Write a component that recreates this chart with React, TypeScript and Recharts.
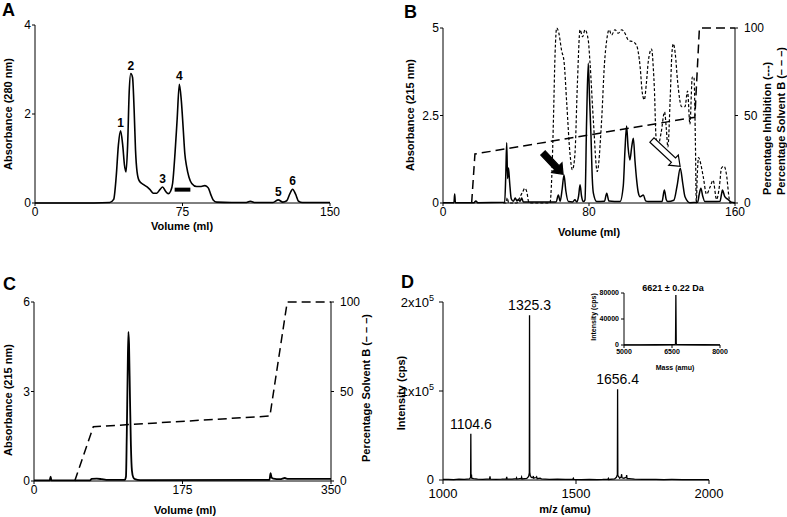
import React from "react";
import {
  ComposedChart,
  Line,
  XAxis,
  YAxis,
  ReferenceLine,
  ReferenceDot,
} from "recharts";

const FONT = "'Liberation Sans', Arial, Helvetica, sans-serif";

type Pt = [number, number];

// ---- A: gel filtration, absorbance 280 nm vs volume (ml)
const aTrace: Pt[] = [
  [0, 0], [30, 0], [38, 0.01], [40, 0.08], [41.3, 0.6], [42.4, 1.3], [43.5, 1.62],
  [44.6, 1.3], [45.5, 0.85], [46.3, 0.7], [47.1, 1.3], [47.9, 2.5], [48.7, 2.91],
  [49.6, 2.82], [50.4, 2.1], [51.1, 1.2], [51.9, 0.7], [53, 0.5], [55, 0.42],
  [57, 0.36], [58.5, 0.3], [60.2, 0.22], [61.9, 0.22], [63.5, 0.3], [64.9, 0.36],
  [66.3, 0.27], [67.8, 0.21], [69, 0.27], [70, 0.45], [71.2, 1.12], [72.3, 1.9],
  [73.4, 2.67], [74.4, 2.3], [75.4, 1.64], [76.2, 1.1], [77.1, 0.82], [78.3, 0.58],
  [79.7, 0.44], [82.2, 0.37], [84.5, 0.37], [86.4, 0.39], [88.1, 0.34], [89.3, 0.2],
  [90.6, 0.07], [92.4, 0.02], [100, 0.01], [107, 0.01], [109.5, 0.04], [112, 0.01],
  [121, 0.01], [123.7, 0.07], [126, 0.02], [128, 0.05], [129.5, 0.2], [131, 0.31],
  [132.5, 0.2], [134, 0.04], [136, 0.01], [150, 0.01],
];
const aPeakLabels = ["1", "2", "3", "4", "5", "6"];
const aPeaks: Pt[] = [[43.5, 1.62], [48.7, 2.91], [64.9, 0.36], [73.4, 2.67], [123.7, 0.07], [131, 0.31]];
const aPooled: Pt[] = [[71, 0.3], [79, 0.3]];

// ---- B: RP-HPLC, absorbance 215 nm, % inhibition, % solvent B
const bAbs: Pt[] = [
  [0, 0.01], [6, 0.01], [6.4, 0.26], [6.8, 0.01], [17, 0.01], [18, 0.06], [19, 0.01],
  [33.8, 0.02], [34.4, 0.8], [34.9, 1.72], [35.4, 0.7], [35.9, 1.0], [36.5, 0.6],
  [37.4, 0.12], [38.5, 0.05], [39.6, 0.14], [40.5, 0.06], [41.3, 0.1], [42.2, 0.05],
  [43.1, 0.14], [44, 0.03], [62, 0.03], [63.2, 0.23], [64.2, 0.05], [65.3, 0.4],
  [66.3, 0.8], [67.3, 0.35], [68.7, 0.04], [71, 0.03], [72.3, 0.09], [73.3, 0.03],
  [74.3, 0.2], [75.1, 0.52], [75.9, 0.2], [76.9, 0.04], [77.8, 0.09], [78.7, 2.37],
  [79.6, 3.99], [80.3, 3.0], [81.1, 1.9], [81.8, 0.7], [82.4, 0.28], [84.2, 0.04],
  [88.5, 0.05], [89.7, 0.28], [90.9, 0.06], [97, 0.04], [98.8, 0.5], [99.7, 1.5],
  [100.6, 2.2], [101.4, 1.6], [102.4, 1.23], [103.4, 1.6], [104.3, 1.85], [105.2, 1.2],
  [106.1, 0.66], [107, 0.3], [108, 0.18], [109.8, 0.23], [111, 0.06], [112.5, 0.04],
  [120, 0.04], [121.3, 0.37], [122.3, 0.1], [123.2, 0.04], [126.5, 0.08], [128.3, 0.5],
  [130, 0.99], [131.4, 0.55], [132.6, 0.18], [135.3, 0.01], [139.5, 0.02], [140.4, 0.25],
  [141.3, 0.42], [142.3, 0.2], [143.5, 0.04], [148, 0.04], [151.8, 0.05], [152.6, 0.25],
  [153.1, 0.37], [154.4, 0.18], [156.2, 0.1], [158, 0.02], [160, 0.01],
];
const bInhibition: Pt[] = [
  [33, 0], [34.5, 0], [35.2, 3], [36, 0], [40.5, 0], [42, 3], [43.5, 6], [44.9, 8.4],
  [46, 6], [47, 0.5], [48.6, 0], [58.6, 0], [59.6, 15], [60.5, 47], [61.4, 85],
  [62.3, 100], [63.5, 97], [65, 87], [66.3, 81], [67.8, 57], [69.6, 28], [70.9, 19],
  [72.3, 28], [73.6, 67], [75.1, 99], [76.5, 95], [77.8, 99], [79.6, 93], [80.5, 81],
  [82.4, 47], [84.5, 18], [86.9, 47], [88.5, 80], [89.7, 93], [91, 99], [92.4, 96],
  [94.2, 99], [96.1, 97], [97.9, 99], [99.7, 97], [101.6, 93], [104.3, 92], [106.1, 90],
  [108, 78], [109.2, 63], [110.3, 59], [111.4, 68], [112.5, 81], [114.3, 88], [115.3, 76],
  [115.8, 66], [116.7, 38], [117.6, 32], [119.5, 40], [121.4, 52], [122.4, 42],
  [123.2, 32], [124.5, 60], [125.4, 85], [126.2, 91], [127.3, 85], [128.5, 70],
  [130.8, 55], [132.6, 55], [134, 64], [135.3, 45], [136.6, 72], [137.5, 72],
  [138.3, 35], [138.8, 0], [139.3, 15], [140, 26], [141.3, 22], [142.6, 15], [144.4, 5],
  [146.3, 9], [148, 13], [149.9, 2], [151.5, 10], [152.6, 20], [154, 21], [155.5, 15],
  [156.5, 5], [157.3, 0], [160, 0],
];
const bSolvent: Pt[] = [[15.7, 0], [17.5, 28], [138, 49], [140.5, 100], [160, 100]];
// arrows drawn in data units (volume, absorbance): tail -> head
const bActiveArrow: Pt[] = [[54.8, 1.43], [65.8, 0.82]];
const bOpenArrow: Pt[] = [[114.5, 1.8], [129.9, 1.05]];

// ---- C: RP-HPLC of active fraction
const cAbs: Pt[] = [
  [0, 0.02], [18.5, 0.02], [19.6, 0.15], [20.5, 0.02], [66, 0.02], [68, 0.07], [74, 0.08],
  [80, 0.06], [85, 0.04], [107, 0.04], [108.4, 0.15], [109.3, 1.5], [110.3, 3.5],
  [111.2, 5.0], [112, 4.6], [113.1, 2.8], [114.2, 1.2], [115.4, 0.35], [117, 0.12],
  [119, 0.06], [125, 0.03], [277.5, 0.04], [278.8, 0.26], [280, 0.12], [281.9, 0.08],
  [290, 0.06], [295.7, 0.1], [297.5, 0.08], [300, 0.07], [350, 0.07],
];
const cSolvent: Pt[] = [[48, 0], [69.9, 30.3], [278, 36.3], [298.4, 100], [350, 100]];

// ---- D: ESI-MS spectrum (m/z, intensity cps)
const dSpectrum: Pt[] = [
  [1000, 600], [1020, 800], [1040, 500], [1060, 900], [1080, 700], [1100, 1200],
  [1103.8, 3000], [1104.6, 52000], [1105.4, 4000], [1107, 6000], [1108, 2000],
  [1115, 1500], [1130, 900], [1150, 800], [1175, 1200], [1176.7, 4000], [1178, 1000],
  [1200, 700], [1220, 900], [1238, 1200], [1239.5, 3500], [1241, 900], [1260, 1000],
  [1275, 1500], [1276.5, 2500], [1278, 1000], [1294, 1800], [1295.5, 3200], [1297, 1200],
  [1315, 1800], [1322, 4000], [1324.5, 8000], [1325.3, 185000], [1326.2, 9000],
  [1328, 5000], [1332, 3000], [1338, 2500], [1339.5, 4500], [1341, 2000], [1350, 2800],
  [1352, 3500], [1354, 1500], [1365, 2000], [1370, 1200], [1400, 800], [1430, 900],
  [1460, 700], [1488, 800], [1490, 2000], [1492, 600], [1520, 500], [1550, 700],
  [1580, 500], [1600, 600], [1620, 900], [1621.5, 1800], [1623, 600], [1645, 1200],
  [1652, 3000], [1655.5, 6000], [1656.4, 102000], [1657.3, 5000], [1660, 4000],
  [1664, 2000], [1670, 3500], [1671.5, 6500], [1673, 2500], [1680, 2000], [1689, 3000],
  [1690.5, 5500], [1692, 1500], [1700, 1500], [1720, 900], [1750, 700], [1780, 600],
  [1800, 800], [1830, 500], [1860, 600], [1900, 500], [1930, 400], [1960, 500], [2000, 400],
];
const dPeakLabels = ["1104.6", "1325.3", "1656.4"];
const dPeaks: Pt[] = [[1104.6, 52000], [1325.3, 185000], [1656.4, 102000]];

// inset: deconvoluted mass
const dMass: Pt[] = [
  [5000, 300], [5500, 300], [6000, 400], [6400, 500], [6600, 800], [6610, 2000],
  [6621, 77000], [6632, 2000], [6645, 900], [7000, 500], [7500, 400], [8000, 300],
];
const dMassTitle = "6621 ± 0.22 Da";

const rows = (pts: Pt[]) => pts.map(([x, y]) => ({ x, y }));

const tick = { fill: "#000", fontSize: 12, fontFamily: FONT };
const axisProps = { stroke: "#000", tickSize: 3, tickMargin: 1 };

function makeArrow(filled: boolean) {
  return (props: any) => {
    const { x1, y1, x2, y2 } = props;
    const dx = x2 - x1;
    const dy = y2 - y1;
    const len = Math.sqrt(dx * dx + dy * dy) || 1;
    const ux = dx / len;
    const uy = dy / len;
    const nx = -uy;
    const ny = ux;
    const sw = 3;
    const hw = 7;
    const hl = 9;
    const bx = x1 + ux * (len - hl);
    const by = y1 + uy * (len - hl);
    const p = [
      [x1 + nx * sw, y1 + ny * sw],
      [bx + nx * sw, by + ny * sw],
      [bx + nx * hw, by + ny * hw],
      [x2, y2],
      [bx - nx * hw, by - ny * hw],
      [bx - nx * sw, by - ny * sw],
      [x1 - nx * sw, y1 - ny * sw],
    ];
    const d = "M" + p.map((q) => q[0].toFixed(1) + "," + q[1].toFixed(1)).join("L") + "Z";
    return <path d={d} fill={filled ? "#000" : "#fff"} stroke="#000" strokeWidth={1.2} />;
  };
}

function PowTick(props: any) {
  const { x, y, payload } = props;
  const v = payload.value as number;
  if (v === 0) {
    return (
      <text x={x} y={y} dy={4} textAnchor="end" fontSize={13} fontFamily={FONT} fill="#000">
        0
      </text>
    );
  }
  return (
    <text x={x} y={y} dy={5} textAnchor="end" fontSize={13} fontFamily={FONT} fill="#000">
      {v / 1e5}x10
      <tspan dy={-6} fontSize={9}>5</tspan>
    </text>
  );
}

function VText({ x, y, children, size = 11, anchor = "middle" }: any) {
  return (
    <text
      x={x}
      y={y}
      transform={`rotate(-90 ${x} ${y})`}
      textAnchor={anchor}
      dominantBaseline="central"
      fontSize={size}
      fontWeight="bold"
      fontFamily={FONT}
      fill="#000"
    >
      {children}
    </text>
  );
}

function HText({ x, y, children, size = 11, weight = "bold" }: any) {
  return (
    <text
      x={x}
      y={y}
      textAnchor="middle"
      dominantBaseline="central"
      fontSize={size}
      fontWeight={weight}
      fontFamily={FONT}
      fill="#000"
    >
      {children}
    </text>
  );
}

function PanelA() {
  return (
    <ComposedChart width={345} height={240} data={rows(aTrace)} margin={{ top: 25, right: 15, left: 0, bottom: 0 }}>
      <XAxis type="number" dataKey="x" domain={[0, 150]} ticks={[0, 75, 150]} interval={0} height={37} tick={tick} {...axisProps} />
      <YAxis type="number" domain={[0, 4]} ticks={[0, 2, 4]} interval={0} width={35} tick={tick} {...axisProps} />
      <Line type="monotone" dataKey="y" stroke="#000" strokeWidth={1.6} dot={false} isAnimationActive={false} />
      <ReferenceLine
        segment={aPooled.map(([x, y]) => ({ x, y }))}
        stroke="#000"
        strokeWidth={4}
      />
      {aPeaks.map(([x, y], i) => (
        <ReferenceDot
          key={i}
          x={x}
          y={y}
          r={1}
          fill="none"
          stroke="none"
          label={{ value: aPeakLabels[i], position: "top", offset: 3, fontSize: 12, fontWeight: "bold", fill: "#000", fontFamily: FONT }}
        />
      ))}
    </ComposedChart>
  );
}

function PanelB() {
  return (
    <ComposedChart width={380} height={240} margin={{ top: 28, right: 5, left: 0, bottom: 0 }}>
      <XAxis type="number" dataKey="x" domain={[0, 160]} ticks={[0, 80, 160]} interval={0} height={37} tick={tick} allowDuplicatedCategory={false} {...axisProps} />
      <YAxis yAxisId="abs" type="number" domain={[0, 5]} ticks={[0, 2.5, 5]} interval={0} width={43} tick={tick} {...axisProps} />
      <YAxis yAxisId="pct" orientation="right" type="number" domain={[0, 100]} ticks={[0, 50, 100]} interval={0} width={40} tick={tick} stroke="#000" tickSize={3} tickMargin={6} />
      <Line yAxisId="pct" data={rows(bSolvent)} type="linear" dataKey="y" stroke="#000" strokeWidth={1.5} strokeDasharray="9 5" dot={false} isAnimationActive={false} />
      <Line yAxisId="pct" data={rows(bInhibition)} type="monotone" dataKey="y" stroke="#000" strokeWidth={1.2} strokeDasharray="3 2" dot={false} isAnimationActive={false} />
      <Line yAxisId="abs" data={rows(bAbs)} type="monotone" dataKey="y" stroke="#000" strokeWidth={1.5} dot={false} isAnimationActive={false} />
      <ReferenceLine yAxisId="abs" segment={bActiveArrow.map(([x, y]) => ({ x, y }))} shape={makeArrow(true)} />
      <ReferenceLine yAxisId="abs" segment={bOpenArrow.map(([x, y]) => ({ x, y }))} shape={makeArrow(false)} />
    </ComposedChart>
  );
}

function PanelC() {
  return (
    <ComposedChart width={390} height={247} margin={{ top: 32, right: 29, left: 0, bottom: 0 }}>
      <XAxis type="number" dataKey="x" domain={[0, 350]} ticks={[0, 175, 350]} interval={0} height={36} tick={tick} allowDuplicatedCategory={false} {...axisProps} />
      <YAxis yAxisId="abs" type="number" domain={[0, 6]} ticks={[0, 3, 6]} interval={0} width={34} tick={tick} {...axisProps} />
      <YAxis yAxisId="pct" orientation="right" type="number" domain={[0, 100]} ticks={[0, 50, 100]} interval={0} width={30} tick={tick} stroke="#000" tickSize={3} tickMargin={6} />
      <Line yAxisId="pct" data={rows(cSolvent)} type="linear" dataKey="y" stroke="#000" strokeWidth={1.5} strokeDasharray="9 5" dot={false} isAnimationActive={false} />
      <Line yAxisId="abs" data={rows(cAbs)} type="monotone" dataKey="y" stroke="#000" strokeWidth={1.8} dot={false} isAnimationActive={false} />
    </ComposedChart>
  );
}

function PanelD() {
  return (
    <ComposedChart width={387} height={247} data={rows(dSpectrum)} margin={{ top: 32, right: 78, left: 0, bottom: 0 }}>
      <XAxis type="number" dataKey="x" domain={[1000, 2000]} ticks={[1000, 1500, 2000]} interval={0} height={37} tick={{ ...tick, fontSize: 13 }} stroke="#000" tickSize={4} tickMargin={5} />
      <YAxis type="number" domain={[0, 200000]} ticks={[0, 100000, 200000]} interval={0} width={43} tick={<PowTick />} stroke="#000" tickSize={4} tickMargin={5} />
      <Line type="linear" dataKey="y" stroke="#000" strokeWidth={1.3} dot={false} isAnimationActive={false} />
      {dPeaks.map(([x, y], i) => (
        <ReferenceDot
          key={i}
          x={x}
          y={y}
          r={1}
          fill="none"
          stroke="none"
          label={{ value: dPeakLabels[i], position: "top", offset: 4, fontSize: 14, fill: "#000", fontFamily: FONT }}
        />
      ))}
    </ComposedChart>
  );
}

function InsetD() {
  const small = { fill: "#000", fontSize: 7, fontWeight: "bold", fontFamily: FONT };
  return (
    <ComposedChart width={150} height={100} data={rows(dMass)} margin={{ top: 13, right: 10, left: 0, bottom: 0 }}>
      <XAxis type="number" dataKey="x" domain={[5000, 8000]} ticks={[5000, 6500, 8000]} interval={0} height={35} tick={small} stroke="#000" tickSize={3} tickMargin={1} />
      <YAxis type="number" domain={[0, 80000]} ticks={[0, 40000, 80000]} interval={0} width={44} tick={small} stroke="#000" tickSize={3} tickMargin={2} />
      <Line type="linear" dataKey="y" stroke="#000" strokeWidth={1.3} dot={false} isAnimationActive={false} />
    </ComposedChart>
  );
}

export default function App() {
  return (
    <div style={{ position: "absolute", left: 0, top: 0, width: 787, height: 517, background: "#fff", overflow: "hidden", fontFamily: FONT }}>
      <div style={{ position: "absolute", left: 0, top: 0 }}>
        <PanelA />
      </div>
      <div style={{ position: "absolute", left: 400, top: 0 }}>
        <PanelB />
      </div>
      <div style={{ position: "absolute", left: 0, top: 270 }}>
        <PanelC />
      </div>
      <div style={{ position: "absolute", left: 400, top: 270 }}>
        <PanelD />
      </div>
      <div style={{ position: "absolute", left: 580, top: 280 }}>
        <InsetD />
      </div>
      <svg width={787} height={517} style={{ position: "absolute", left: 0, top: 0, pointerEvents: "none" }}>
        <text x={2} y={16} fontSize={18} fontWeight="bold" fontFamily={FONT}>A</text>
        <text x={404} y={18} fontSize={18} fontWeight="bold" fontFamily={FONT}>B</text>
        <text x={3} y={290} fontSize={18} fontWeight="bold" fontFamily={FONT}>C</text>
        <text x={401} y={288} fontSize={18} fontWeight="bold" fontFamily={FONT}>D</text>

        <VText x={8} y={114}>Absorbance (280 nm)</VText>
        <HText x={182} y={226}>Volume (ml)</HText>

        <VText x={410} y={115}>Absorbance (215 nm)</VText>
        <HText x={589} y={232}>Volume (ml)</HText>
        <VText x={767} y={195} anchor="start">Percentage Inhibition (---)</VText>
        <VText x={781} y={195} anchor="start">Percentage Solvent B (– – –)</VText>

        <VText x={8} y={400}>Absorbance (215 nm)</VText>
        <HText x={185} y={510}>Volume (ml)</HText>
        <VText x={366} y={388}>Percentage Solvent B (– – –)</VText>

        <VText x={401} y={393}>Intensity (cps)</VText>
        <HText x={565} y={509}>m/z (amu)</HText>

        <HText x={673} y={288} size={9}>{dMassTitle}</HText>
        <HText x={675} y={367} size={7}>Mass (amu)</HText>
        <VText x={593} y={317} size={7}>Intensity (cps)</VText>
      </svg>
    </div>
  );
}
